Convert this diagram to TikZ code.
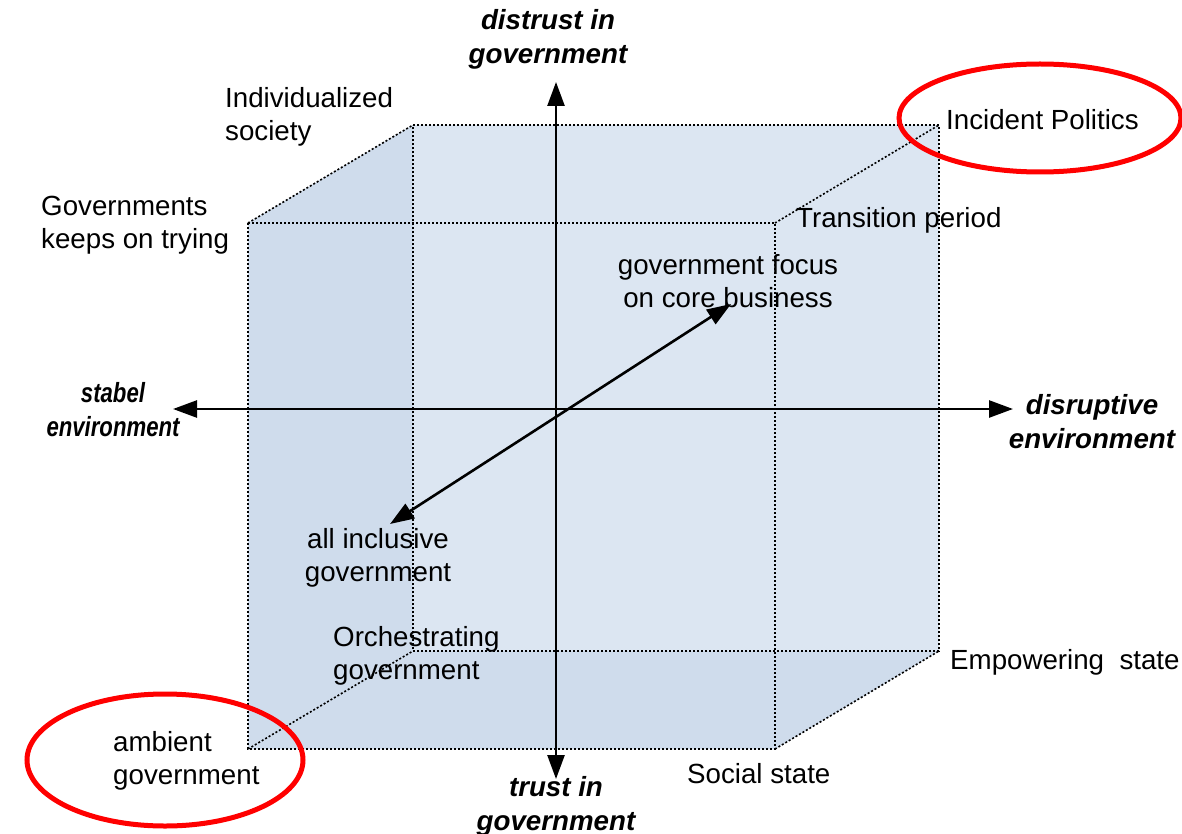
\documentclass[tikz,border=0pt]{standalone}
\usepackage{fontspec}
\setmainfont{Liberation Sans}
\usetikzlibrary{arrows.meta}
\definecolor{facelight}{HTML}{DCE6F2}
\definecolor{facedark}{HTML}{CFDCEC}
\definecolor{ringred}{HTML}{FF0000}
\begin{document}
\begin{tikzpicture}[x=1pt,y=-1pt,
  edge/.style={line width=1.6pt,dash pattern=on 2pt off 2pt,black},
  axis/.style={line width=2.6pt,{Triangle[length=24pt,width=17pt]}-{Triangle[length=24pt,width=17pt]}},
  lbl/.style={font=\fontsize{27.7}{33}\selectfont,inner sep=0pt,align=left},
  clbl/.style={font=\fontsize{27.7}{33}\selectfont,inner sep=0pt,align=center},
  axlbl/.style={font=\fontsize{27.7}{34}\selectfont\bfseries\itshape,inner sep=0pt,align=center},
  ring/.style={draw=ringred,line width=5pt}]
\useasboundingbox (0,0) rectangle (1182,834);
% cube corners
\coordinate (FTL) at (248,223);
\coordinate (FTR) at (775,223);
\coordinate (FBL) at (248,749);
\coordinate (FBR) at (775,749);
\coordinate (BTL) at (413,125);
\coordinate (BTR) at (939,125);
\coordinate (BBL) at (413,651);
\coordinate (BBR) at (939,651);
% fills
\fill[facelight] (FTL) -- (BTL) -- (BTR) -- (BBR) -- (FBR) -- (FBL) -- cycle;
\fill[facedark] (FTL) -- (BTL) -- (BBL) -- (FBL) -- cycle;
\fill[facedark] (FBL) -- (BBL) -- (BBR) -- (FBR) -- cycle;
% edges
\draw[edge] (FTL) -- (FTR) -- (FBR) -- (FBL) -- cycle;
\draw[edge] (BTL) -- (BTR) -- (BBR) -- (BBL) -- cycle;
\draw[edge] (FTL) -- (BTL);
\draw[edge] (FTR) -- (BTR);
\draw[edge] (FBL) -- (BBL);
\draw[edge] (FBR) -- (BBR);
% axes
\coordinate (ytop) at (556,82);
\coordinate (ybot) at (556,779);
\coordinate (xl) at (173,409);
\coordinate (xr) at (1013,409);
\coordinate (dl) at (390,524);
\coordinate (dr) at (731,304);
\draw[axis] (ybot) -- (ytop);
\draw[axis] (xl) -- (xr);
\draw[axis] (dl) -- (dr);
% axis labels
\node[axlbl] (distrust) at (548,39) {distrust in\\government};
\node[axlbl] (trust) at (556,806) {trust in\\government};
\node[axlbl,xscale=0.8,transform shape] (stabel) at (113,410) {stabel\\environment};
\node[axlbl] (disruptive) at (1092,422) {disruptive\\environment};
% labels
\node[lbl,anchor=west] (indiv) at (225,117) {Individualized\\society};
\node[lbl,anchor=west] (govtry) at (41,225) {Governments\\keeps on trying};
\node[lbl,anchor=west] (incident) at (946,120) {Incident Politics};
\node[lbl,anchor=west] (transition) at (796,220) {Transition period};
\node[clbl] (focus) at (728,281) {government focus\\on core business};
\node[clbl] (inclusive) at (378,558) {all inclusive\\government};
\node[lbl,anchor=west] (orch) at (333,656) {Orchestrating\\government};
\node[lbl,anchor=west] (empower) at (950,662) {Empowering\ \ state};
\node[lbl,anchor=west] (ambient) at (113,761) {ambient\\government};
\node[lbl,anchor=west] (social) at (687,774) {Social state};
% rings
\draw[ring] (165,760) ellipse [x radius=138pt, y radius=66pt];
\draw[ring] (1040,118) ellipse [x radius=141pt, y radius=54pt];
\end{tikzpicture}
\end{document}
